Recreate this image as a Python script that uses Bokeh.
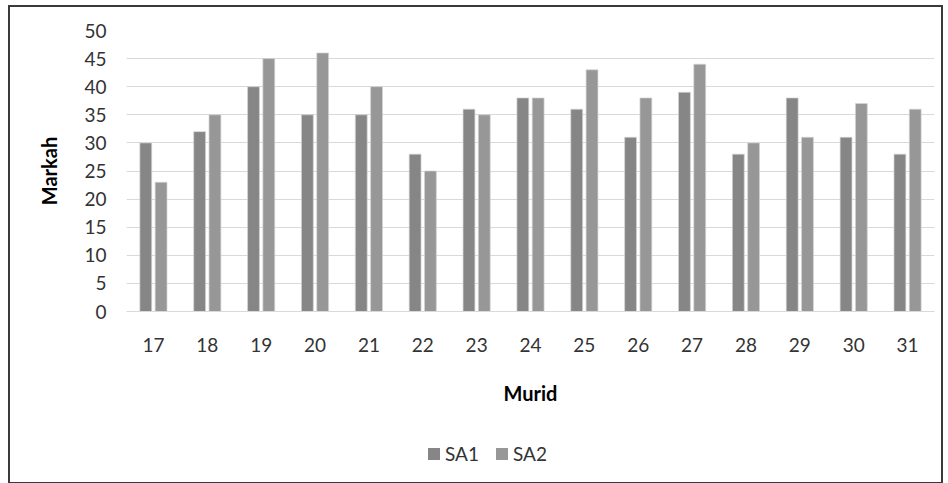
from bokeh.plotting import figure
from bokeh.models import ColumnDataSource, Legend, LegendItem, FactorRange
from bokeh.layouts import column
from bokeh.transform import dodge
from bokeh.embed import file_html
from bokeh.resources import INLINE

murid = ["17", "18", "19", "20", "21", "22", "23", "24", "25", "26", "27", "28", "29", "30", "31"]
sa1 = [30, 32, 40, 35, 35, 28, 36, 38, 36, 31, 39, 28, 38, 31, 28]
sa2 = [23, 35, 45, 46, 40, 25, 35, 38, 43, 38, 44, 30, 31, 37, 36]
y_ticks = [0, 5, 10, 15, 20, 25, 30, 35, 40, 45, 50]
series = ["SA1", "SA2"]
colors = ["#868686", "#979797"]

src = ColumnDataSource(dict(murid=murid, sa1=sa1, sa2=sa2))

FONT = "Lato"

p = figure(x_range=FactorRange(*murid), y_range=(0, 50),
           width=931, height=418, output_backend="svg", toolbar_location=None,
           min_border_left=116, min_border_right=7, min_border_top=23, min_border_bottom=114)

r1 = p.vbar(x=dodge("murid", -0.142, range=p.x_range), top="sa1", width=0.22, source=src,
            fill_color=colors[0], line_color="#d4d4d4", line_width=0.7)
r2 = p.vbar(x=dodge("murid", 0.142, range=p.x_range), top="sa2", width=0.22, source=src,
            fill_color=colors[1], line_color="#d4d4d4", line_width=0.7)

p.outline_line_color = None
p.xgrid.grid_line_color = None
p.ygrid.grid_line_color = "#d9d9d9"
p.ygrid.grid_line_width = 1.2
p.x_range.range_padding = 0
p.x_range.group_padding = 0

p.yaxis.ticker = y_ticks
p.yaxis.axis_line_color = None
p.yaxis.major_tick_line_color = None
p.yaxis.minor_tick_line_color = None
p.yaxis.major_label_text_font = FONT
p.yaxis.major_label_text_font_size = "19px"
p.yaxis.major_label_text_color = "#333333"
p.yaxis.major_label_standoff = 14
p.yaxis.axis_label = "Markah"
p.yaxis.axis_label_text_font = FONT
p.yaxis.axis_label_text_font_size = "20px"
p.yaxis.axis_label_text_font_style = "bold"
p.yaxis.axis_label_text_color = "#000000"
p.yaxis.axis_label_standoff = 20

p.xaxis.axis_line_color = "#d9d9d9"
p.xaxis.axis_line_width = 1.2
p.xaxis.major_tick_line_color = None
p.xaxis.minor_tick_line_color = None
p.xaxis.major_label_text_font = FONT
p.xaxis.major_label_text_font_size = "19px"
p.xaxis.major_label_text_color = "#333333"
p.xaxis.major_label_standoff = 20
p.xaxis.axis_label = "Murid"
p.xaxis.axis_label_text_font = FONT
p.xaxis.axis_label_text_font_size = "20px"
p.xaxis.axis_label_text_font_style = "bold"
p.xaxis.axis_label_text_color = "#000000"
p.xaxis.axis_label_standoff = 26

# legend strip below the chart
leg = figure(x_range=FactorRange(*murid), y_range=(1000, 1001),
             width=931, height=57, output_backend="svg", toolbar_location=None,
             x_axis_location=None, y_axis_location=None,
             min_border_left=0, min_border_right=0, min_border_top=0, min_border_bottom=0)
leg.outline_line_color = None
leg.xgrid.grid_line_color = None
leg.ygrid.grid_line_color = None
l1 = leg.vbar(x="murid", top="sa1", width=0.22, source=src, fill_color=colors[0], line_color=None)
l2 = leg.vbar(x="murid", top="sa2", width=0.22, source=src, fill_color=colors[1], line_color=None)

legend = Legend(items=[LegendItem(label=series[0], renderers=[l1]),
                       LegendItem(label=series[1], renderers=[l2])],
                orientation="horizontal", location=(300, 17),
                border_line_color=None, background_fill_alpha=0,
                glyph_width=15, glyph_height=15, label_standoff=4, spacing=15,
                padding=0, margin=0,
                label_text_font=FONT, label_text_font_size="19px", label_text_color="#333333")
leg.add_layout(legend, "center")

layout = column(p, leg, spacing=0, margin=(5, 0, 0, 8))
layout.styles = {"border": "2px solid #3a3a3a"}

open("out.html", "w").write(file_html(layout, INLINE))
